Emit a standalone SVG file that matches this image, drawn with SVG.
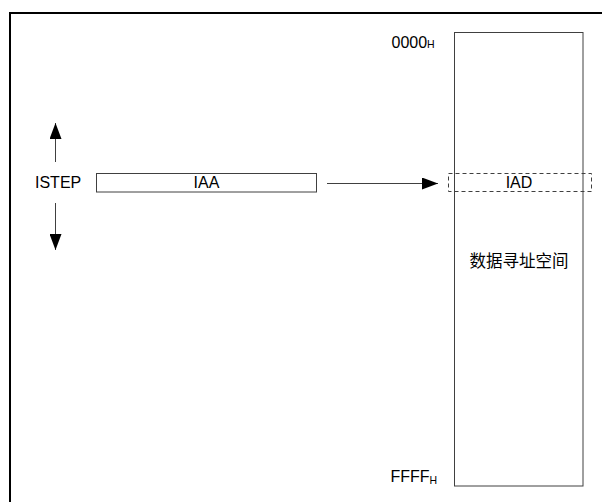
<svg xmlns="http://www.w3.org/2000/svg" width="602" height="502" viewBox="0 0 602 502">
<style>
.t{font-family:"Liberation Sans",Arial,"Noto Sans CJK SC",sans-serif;font-size:16px;fill:#000}
.sub{font-family:"Liberation Sans",Arial,sans-serif;font-size:10.5px;fill:#000}
.cjk{font-family:"Noto Sans CJK SC","Liberation Sans",sans-serif;font-size:16.5px;fill:#000}
.box{fill:#fff;stroke:#404040;stroke-width:1}
.dash{fill:none;stroke:#404040;stroke-width:1;stroke-dasharray:4,3}
.ln{stroke:#404040;stroke-width:1;fill:none}
</style>
<defs>
<marker id="ah" viewBox="0 0 16 12" refX="16" refY="6" markerWidth="16" markerHeight="12" markerUnits="userSpaceOnUse" orient="auto">
<path d="M0,0 L16,6 L0,12 Z" fill="#000"/>
</marker>
</defs>
<rect width="602" height="502" fill="#fff"/>
<path d="M10,502 V13 H602" fill="none" stroke="#000" stroke-width="2"/>
<g id="memory">
<rect class="box" x="454.5" y="32.5" width="128.5" height="453.5"/>
<text class="t" x="391.5" y="48">0000<tspan class="sub">H</tspan></text>
<text class="t" x="390.5" y="482">FFFF<tspan class="sub" dy="1.5">H</tspan></text>
<text class="cjk" x="519" y="267" text-anchor="middle">数据寻址空间</text>
</g>
<g id="iad">
<rect class="dash" x="448.5" y="173.5" width="143" height="18"/>
<text class="t" x="519" y="188" text-anchor="middle">IAD</text>
</g>
<g id="iaa">
<rect class="box" x="96.5" y="173.5" width="220" height="18.5"/>
<text class="t" x="206.5" y="188" text-anchor="middle">IAA</text>
</g>
<g id="istep">
<text class="t" x="35" y="188">ISTEP</text>
</g>
<g id="connectors">
<line class="ln" x1="327" y1="183.5" x2="438" y2="183.5" marker-end="url(#ah)"/>
<line class="ln" x1="55.5" y1="162" x2="55.5" y2="123" marker-end="url(#ah)"/>
<line class="ln" x1="55.5" y1="203" x2="55.5" y2="250" marker-end="url(#ah)"/>
</g>
</svg>
